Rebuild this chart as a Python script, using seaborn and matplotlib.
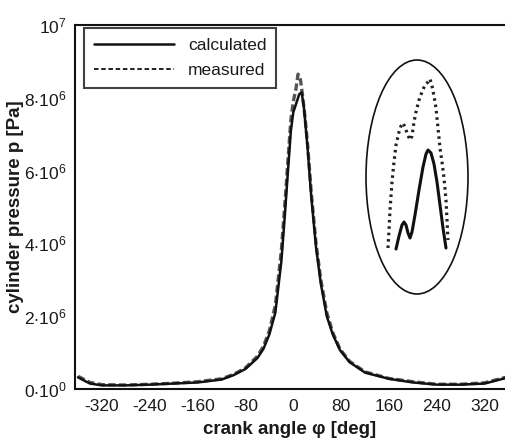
import numpy as np
import pandas as pd
import matplotlib
matplotlib.use("Agg")
import matplotlib.pyplot as plt
from matplotlib.patches import Ellipse
from matplotlib.lines import Line2D
import seaborn as sns

# ---- data ----
angle_calc = [-360, -340, -320, -280, -240, -200, -160, -120, -100, -80, -60, -50, -40, -30,
              -20, -14, -8, -4, 0, 4, 10, 14, 18, 24, 30, 38, 46, 56, 66, 78, 94, 120,
              160, 200, 240, 280, 320, 355]
p_calc_mpa = [0.32, 0.15, 0.10, 0.10, 0.12, 0.15, 0.18, 0.26, 0.38, 0.55, 0.85, 1.1, 1.5, 2.1,
              3.5, 4.8, 6.2, 7.1, 7.6, 7.8, 8.1, 8.15, 7.7, 6.6, 5.3, 3.9, 2.9, 2.0, 1.5, 1.07,
              0.74, 0.45, 0.28, 0.18, 0.12, 0.12, 0.15, 0.30]
angle_meas = [-360, -340, -320, -280, -240, -200, -160, -120, -100, -80, -60, -50, -40, -30,
              -20, -14, -8, -4, 0, 4, 8, 12, 16, 20, 24, 30, 38, 46, 56, 66, 78, 94, 120,
              160, 200, 240, 280, 320, 355]
p_meas_mpa = [0.35, 0.18, 0.12, 0.11, 0.13, 0.16, 0.20, 0.28, 0.40, 0.58, 0.90, 1.17, 1.6, 2.3,
              3.8, 5.1, 6.5, 7.4, 7.9, 8.2, 8.65, 8.5, 8.0, 7.4, 6.7, 5.4, 4.0, 3.0, 2.1, 1.55,
              1.1, 0.76, 0.47, 0.29, 0.20, 0.13, 0.13, 0.17, 0.32]

# zoomed sketch of the peak inside the ellipse (arbitrary zoom units)
inset_calc_x = [16, 19, 22, 24, 26, 28, 30, 32, 35, 39, 43, 46, 48, 51, 54, 57, 60, 63, 66]
inset_calc_y = [6, 19, 30, 33, 30, 22, 17, 23, 40, 65, 88, 101, 105, 102, 91, 73, 50, 27, 7]
inset_meas_x = [8, 9, 10, 12, 14, 16, 19, 21, 23, 25, 27, 30, 32, 34, 36, 39, 42, 45, 48, 50,
                52, 54, 56, 58, 60, 62, 64, 66, 67, 68]
inset_meas_y = [7, 25, 45, 73, 93, 110, 123, 129, 132, 128, 122, 115, 119, 133, 143, 155, 163,
                170, 173, 176, 169, 159, 147, 127, 107, 93, 77, 55, 35, 15]

x_ticks = [-320, -240, -160, -80, 0, 80, 160, 240, 320]
y_ticks = [0, 2e6, 4e6, 6e6, 8e6, 1e7]
y_ticklabels = [r'$0{\cdot}10^0$', r'$2{\cdot}10^6$', r'$4{\cdot}10^6$',
                r'$6{\cdot}10^6$', r'$8{\cdot}10^6$', r'$10^7$']

df_calc = pd.DataFrame({"angle": angle_calc, "p": np.array(p_calc_mpa) * 1e6})
df_meas = pd.DataFrame({"angle": angle_meas, "p": np.array(p_meas_mpa) * 1e6})

sns.set_style("white")
plt.rcParams['font.family'] = ['Liberation Sans', 'DejaVu Sans']
plt.rcParams['mathtext.default'] = 'regular'
txt = '#1a1a1a'

W, H = 505, 447
fig = plt.figure(figsize=(W / 100, H / 100), dpi=100)
ax = fig.add_axes([75 / W, (H - 389) / H, (W - 75) / W, (389 - 25) / H])

sns.lineplot(data=df_meas, x="angle", y="p", ax=ax, color='#555555', lw=2.4,
             linestyle=(0, (2.2, 1.0)), label="measured")
sns.lineplot(data=df_calc, x="angle", y="p", ax=ax, color='#111111', lw=1.8,
             label="calculated")

ax.set_xlim(-365, 354)
ax.set_ylim(0, 1e7)
ax.set_xticks(x_ticks)
ax.set_xticklabels([str(t) for t in x_ticks])
ax.set_yticks(y_ticks)
ax.set_yticklabels(y_ticklabels)
ax.tick_params(axis='both', direction='out', length=4, width=1.2, colors=txt,
               labelsize=12.5, pad=3)
ax.tick_params(axis='y', pad=2)
for s in ['left', 'bottom', 'top']:
    ax.spines[s].set_linewidth(1.5)
    ax.spines[s].set_color('#111111')
ax.spines['right'].set_visible(False)

ax.set_xlabel('crank angle φ [deg]', fontsize=13.5, fontweight='bold', color=txt, labelpad=5)
ax.set_ylabel('cylinder pressure p [Pa]', fontsize=13.5, fontweight='bold', color=txt,
              labelpad=0)

# legend: calculated first, measured with black dashes
handles = [Line2D([], [], color='#111111', lw=1.8),
           Line2D([], [], color='#111111', lw=1.3, linestyle=(0, (2.5, 1.5)))]
leg = ax.legend(handles, ['calculated', 'measured'], loc='upper left',
                bbox_to_anchor=(0.022, 0.992), borderaxespad=0, fancybox=False,
                frameon=True, edgecolor='#111111', fontsize=12.5, handlelength=4.6,
                handletextpad=0.8, borderpad=0.55, labelspacing=0.6)
leg.get_frame().set_linewidth(1.5)
for t in leg.get_texts():
    t.set_color(txt)

# ellipse with zoomed peak
ell = Ellipse(((417 - 75) / (W - 75), (389 - 177) / (389 - 25)),
              102 / (W - 75), 234 / (389 - 25), transform=ax.transAxes,
              fill=False, edgecolor='#111111', lw=1.2)
ax.add_patch(ell)

iax = fig.add_axes([380 / W, (H - 255) / H, 75 / W, 185 / H])
iax.set_xlim(0, 75)
iax.set_ylim(0, 185)
iax.axis('off')
sns.lineplot(x=inset_meas_x, y=inset_meas_y, ax=iax, color='#222222', lw=2.3,
             linestyle=(0, (0.8, 1.2)), sort=False)
sns.lineplot(x=inset_calc_x, y=inset_calc_y, ax=iax, color='#111111', lw=2.2, sort=False)

fig.savefig('out.png', dpi=100)
